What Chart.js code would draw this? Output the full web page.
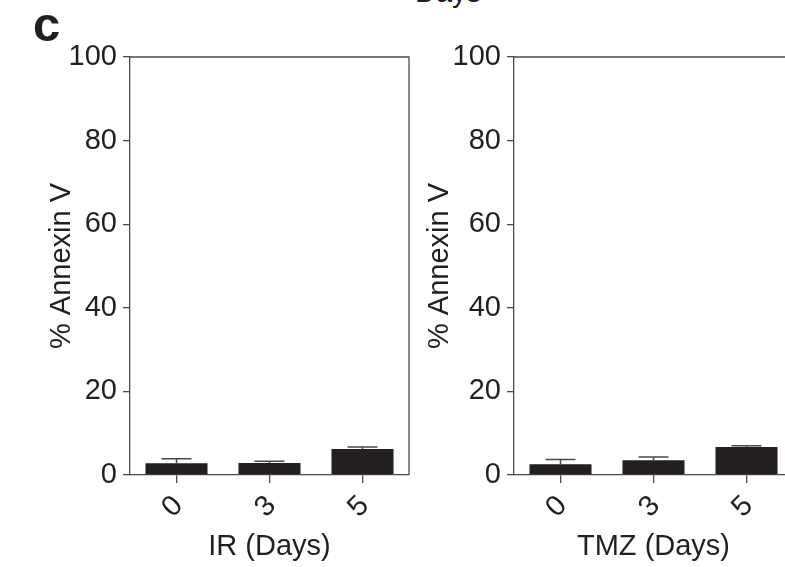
<!DOCTYPE html>
<html>
<head>
<meta charset="utf-8">
<script src="https://cdn.jsdelivr.net/npm/chart.js@4.4.1/dist/chart.umd.min.js"></script>
<style>
  html, body { margin: 0; padding: 0; background: #fff; }
  body { position: relative; width: 785px; height: 567px; overflow: hidden;
         font-family: "Liberation Sans", Arial, sans-serif; color: #231f20; }
  canvas { position: absolute; top: 0; }
  #irChart { left: 0; }
  #tmzChart { left: 410px; }
  .panel { position: absolute; font-weight: bold; font-size: 49px; line-height: 49px; left: 33px; top: 0; }
  .above { position: absolute; font-size: 29px; line-height: 29px; left: 415px; top: -22px; }
</style>
</head>
<body>
<div class="above">Days</div>
<div class="panel">c</div>
<canvas id="irChart" width="412" height="567"></canvas>
<canvas id="tmzChart" width="400" height="567"></canvas>
<script>
// days after treatment
var days = ['0', '3', '5'];
// % Annexin V positive, mean and SEM
var irMean = [2.8, 2.9, 6.2];
var irSem = [1.1, 0.4, 0.5];
var tmzMean = [2.6, 3.5, 6.7];
var tmzSem = [1.1, 0.8, 0.3];
var yTicks = [0, 20, 40, 60, 80, 100];

var ink = '#231f20';
var axisGrey = '#4a4a4a';
var fontFace = '"Liberation Sans", Arial, sans-serif';

// upward-only error bars with a short cap
var errorBars = {
    id: 'errorBars',
    afterDatasetsDraw: function(chart, args, opts) {
        var ctx = chart.ctx;
        var y = chart.scales.y;
        var values = chart.data.datasets[0].data;
        ctx.save();
        ctx.strokeStyle = axisGrey;
        ctx.lineWidth = 1.5;
        chart.getDatasetMeta(0).data.forEach(function(bar, i) {
            var top = y.getPixelForValue(values[i] + opts.sem[i]);
            ctx.beginPath();
            ctx.moveTo(bar.x, bar.y);
            ctx.lineTo(bar.x, top);
            ctx.moveTo(bar.x - 15, top);
            ctx.lineTo(bar.x + 15, top);
            ctx.stroke();
        });
        ctx.restore();
    }
};

// top and right edges of the plot frame
var frame = {
    id: 'frame',
    afterDraw: function(chart) {
        var a = chart.chartArea;
        var ctx = chart.ctx;
        ctx.save();
        ctx.strokeStyle = axisGrey;
        ctx.lineWidth = 1.3;
        ctx.beginPath();
        ctx.moveTo(a.left, a.top);
        ctx.lineTo(a.right, a.top);
        ctx.lineTo(a.right, a.bottom);
        ctx.stroke();
        ctx.restore();
    }
};

function annexinChart(id, xTitle, means, sem, g) {
    return new Chart(document.getElementById(id), {
        type: 'bar',
        data: {
            labels: days,
            datasets: [{
                data: means,
                backgroundColor: ink,
                borderWidth: 0,
                barPercentage: 0.667,
                categoryPercentage: 1
            }]
        },
        options: {
            responsive: false,
            animation: false,
            layout: { padding: { top: 57, right: g.padRight, bottom: 0, left: 0 } },
            plugins: {
                legend: { display: false },
                tooltip: { enabled: false },
                errorBars: { sem: sem }
            },
            scales: {
                x: {
                    afterFit: function(s) { s.height = 92; },
                    grid: { offset: false, drawOnChartArea: false, drawTicks: true, tickLength: 8, color: axisGrey, lineWidth: 1.3 },
                    border: { color: axisGrey, width: 1.3 },
                    ticks: { color: ink, font: { family: fontFace, size: 29 }, minRotation: 45, maxRotation: 45, padding: 6, labelOffset: 2 },
                    title: { display: true, text: xTitle, color: ink, font: { family: fontFace, size: 29 }, padding: { top: 0, bottom: 3 } }
                },
                y: {
                    min: 0,
                    max: 100,
                    afterFit: function(s) { s.width = g.yWidth; },
                    afterBuildTicks: function(s) { s.ticks = yTicks.map(function(v) { return { value: v }; }); },
                    grid: { drawOnChartArea: false, drawTicks: true, tickLength: 7, color: axisGrey, lineWidth: 1.3 },
                    border: { color: axisGrey, width: 1.3 },
                    ticks: { color: ink, font: { family: fontFace, size: 29 }, padding: 6 },
                    title: { display: true, text: '% Annexin V', color: ink, font: { family: fontFace, size: 29 }, padding: { top: g.titlePad, bottom: 0 } }
                }
            }
        },
        plugins: [errorBars, frame]
    });
}

annexinChart('irChart', 'IR (Days)', irMean, irSem, { yWidth: 130, padRight: 3, titlePad: 45 });
annexinChart('tmzChart', 'TMZ (Days)', tmzMean, tmzSem, { yWidth: 104, padRight: 17, titlePad: 13 });
</script>
</body>
</html>
